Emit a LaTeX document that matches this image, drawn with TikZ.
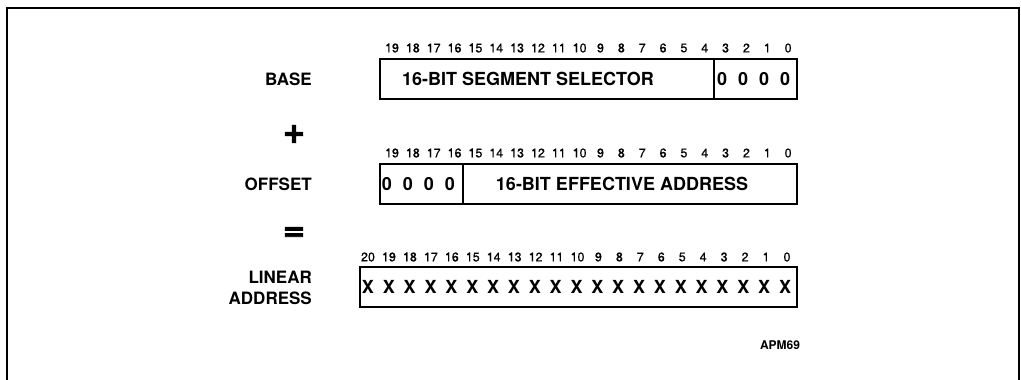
\documentclass[tikz,border=0pt]{standalone}
\usepackage{fontspec}
\setmainfont{TeX Gyre Heros}
\newfontfamily\symfont[FakeBold=3]{DejaVu Sans}
\newfontfamily\numfont[FakeBold=0.6]{TeX Gyre Heros}
\begin{document}
\begin{tikzpicture}[x=1pt,y=-1pt,
  frame/.style={line width=1.3pt},
  field/.style={draw,line width=1.6pt,inner sep=0pt,minimum height=40pt,anchor=north west},
  lbl/.style={font=\fontsize{17}{19}\selectfont\bfseries,anchor=east,inner sep=0pt},
  big/.style={font=\fontsize{18}{20}\selectfont\bfseries,inner sep=0pt},
  bitno/.style={font=\fontsize{12.5}{13}\selectfont\numfont,inner sep=0pt},
  sym/.style={font=\fontsize{28}{28}\selectfont\symfont\bfseries,inner sep=0pt}]
\useasboundingbox (0,0) rectangle (1021,380);
\coordinate (fbl) at (7,381);
\coordinate (ftl) at (7,8);
\coordinate (ftr) at (1019,8);
\coordinate (fbr) at (1019,381);
\draw[frame] (fbl) -- (ftl) -- (ftr) -- (fbr);

% row labels
\node[lbl] (lbase) at (312,79) {BASE};
\node[sym] (plus) at (294,134) {+};
\node[lbl] (loff) at (312,184) {OFFSET};
\node[sym] (eq) at (294,234) {=};
\node[lbl,align=right] (llin) at (312,288) {LINEAR\\[2pt]ADDRESS};

% BASE register
\node[field,minimum width=334pt] (b1a) at (379,58) {};
\node[field,minimum width=83pt] (b1b) at (713,58) {};
\node[big] (t1) at (528,79) {16-BIT SEGMENT SELECTOR};
\foreach \k [count=\i from 0] in {0,0,0,0}
  \node[big] (z1\i) at (722+21*\i,79) {0};
\foreach \i in {0,...,19}{
  \pgfmathtruncatemacro{\n}{19-\i}
  \node[bitno] (n1\i) at (392+20.85*\i,48) {\n};
}

% OFFSET register
\node[field,minimum width=83pt] (b2a) at (379,163) {};
\node[field,minimum width=334pt] (b2b) at (462,163) {};
\foreach \k [count=\i from 0] in {0,0,0,0}
  \node[big] (z2\i) at (387+21*\i,184) {0};
\node[big] (t2) at (622,184) {16-BIT EFFECTIVE ADDRESS};
\foreach \i in {0,...,19}{
  \pgfmathtruncatemacro{\n}{19-\i}
  \node[bitno] (n2\i) at (392+20.85*\i,153) {\n};
}

% LINEAR ADDRESS register
\node[field,minimum width=437pt] (b3) at (359,266) {};
\foreach \i in {0,...,20}{
  \pgfmathtruncatemacro{\n}{20-\i}
  \node[bitno] (n3\i) at (368+20.95*\i,257) {\n};
  \node[big] (x3\i) at (368+20.85*\i,287) {X};
}

\node[font=\fontsize{12}{13}\selectfont\bfseries,inner sep=0pt] (apm) at (780,345) {APM69};
\end{tikzpicture}
\end{document}
